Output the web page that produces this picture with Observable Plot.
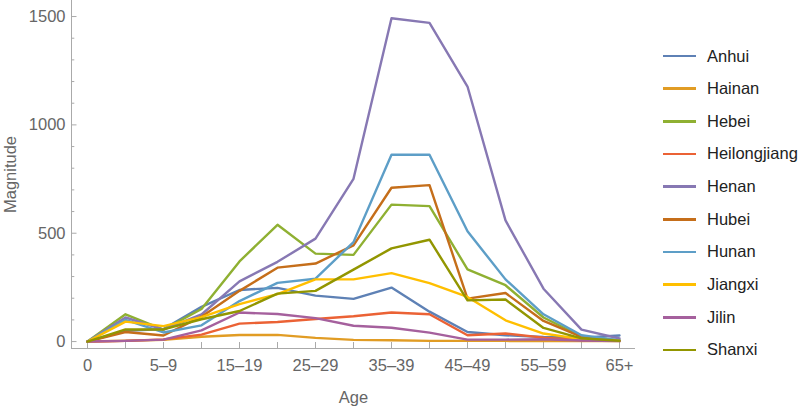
<!DOCTYPE html>
<html><head><meta charset="utf-8">
<script src="https://cdn.jsdelivr.net/npm/d3@7"></script>
<script src="https://cdn.jsdelivr.net/npm/@observablehq/plot@0.6"></script>
<style>
body{margin:0;background:#fff;font-family:"Liberation Sans",Arial,sans-serif;}
#wrap{position:relative;width:800px;height:407px;}
#legend{position:absolute;left:663px;top:39.7px;}
.item{height:32.67px;display:flex;align-items:center;font-size:16.5px;color:#222;white-space:nowrap;}
.sw{width:33px;height:2.5px;margin-right:11px;}
</style></head><body><div id="wrap"></div>
<script>
const ages = ["0","1–4","5–9","10–14","15–19","20–24","25–29","30–34","35–39","40–44","45–49","50–54","55–59","60–64","65+"];
const provinces = ["Anhui","Hainan","Hebei","Heilongjiang","Henan","Hubei","Hunan","Jiangxi","Jilin","Shanxi"];
const colors = ["#5E81B5","#E19C24","#8FB032","#EB6235","#8778B3","#C56E1A","#5D9EC7","#FFBF00","#A5609D","#929600"];
const anhui        = [0, 50, 58, 160, 238, 248, 212, 197, 249, 138, 44, 29, 21, 18, 28];
const hainan       = [0, 4, 8, 22, 30, 31, 17, 8, 6, 3, 3, 3, 2, 2, 2];
const hebei        = [0, 126, 55, 150, 370, 539, 406, 400, 632, 625, 333, 260, 111, 24, 5];
const heilongjiang = [0, 3, 10, 32, 83, 90, 104, 117, 134, 126, 29, 37, 18, 6, 3];
const henan        = [0, 111, 55, 125, 278, 368, 475, 751, 1492, 1471, 1177, 559, 244, 55, 14];
const hubei        = [0, 44, 28, 115, 234, 341, 360, 444, 710, 722, 198, 224, 95, 22, 4];
const hunan        = [0, 100, 42, 75, 187, 271, 290, 459, 862, 862, 509, 287, 126, 29, 5];
const jiangxi      = [0, 92, 71, 113, 173, 219, 287, 287, 316, 270, 206, 98, 37, 11, 3];
const jilin        = [0, 3, 9, 52, 134, 127, 108, 73, 64, 41, 9, 9, 11, 5, 2];
const shanxi       = [0, 56, 56, 103, 141, 221, 234, 332, 430, 470, 190, 194, 63, 15, 4];
const series = [anhui, hainan, hebei, heilongjiang, henan, hubei, hunan, jiangxi, jilin, shanxi];
const xTickLabels = ["0","5–9","15–19","25–29","35–39","45–49","55–59","65+"];
const yMajor = [0, 500, 1000, 1500];
const yMinor = [100,200,300,400,600,700,800,900,1100,1200,1300,1400];

const rows = provinces.flatMap((p, j) => series[j].map((v, i) => ({age: ages[i], province: p, value: v})));

const FS = 16.5;
const chart = Plot.plot({
  width: 800, height: 407,
  marginLeft: 71, marginRight: 165, marginTop: 0, marginBottom: 59,
  style: {fontFamily: "Liberation Sans, Arial, sans-serif", fontSize: "16.5px", background: "white"},
  x: {type: "point", domain: ages, padding: 0.28},
  y: {domain: [-32, 1574]},
  color: {domain: provinces, range: colors},
  marks: [
    Plot.ruleY([-32], {stroke: "#aaa"}),
    Plot.frame({anchor: "left", stroke: "#aaa"}),
    Plot.axisX({ticks: xTickLabels, tickSize: 0, tickPadding: 11, fill: "#666", fontSize: FS, label: null}),
    Plot.axisY({ticks: yMajor, tickSize: 0, tickPadding: 6, fill: "#666", fontSize: FS, tickFormat: d3.format("d"), label: null}),
    Plot.tickX(ages, {x: d => d, stroke: "#aaa", insetTop: 342}),
    Plot.tickY(yMajor, {y: d => d, stroke: "#aaa", insetRight: 558.5}),
    Plot.tickY(yMinor, {y: d => d, stroke: "#aaa", insetRight: 560.7}),
    Plot.line(rows, {x: "age", y: "value", stroke: "province", strokeWidth: 2.4}),
    Plot.text(["Age"], {frameAnchor: "bottom", lineAnchor: "middle", textAnchor: "middle", dy: 49, fill: "#666", fontSize: FS}),
    Plot.text(["Magnitude"], {frameAnchor: "left", textAnchor: "middle", lineAnchor: "middle", rotate: -90, dx: -61, fill: "#666", fontSize: FS})
  ]
});
const wrap = document.getElementById("wrap");
wrap.appendChild(chart);
const legend = document.createElement("div");
legend.id = "legend";
provinces.forEach((p, j) => {
  const it = document.createElement("div");
  it.className = "item";
  const sw = document.createElement("span");
  sw.className = "sw";
  sw.style.background = colors[j];
  it.appendChild(sw);
  it.appendChild(document.createTextNode(p));
  legend.appendChild(it);
});
wrap.appendChild(legend);
</script></body></html>
